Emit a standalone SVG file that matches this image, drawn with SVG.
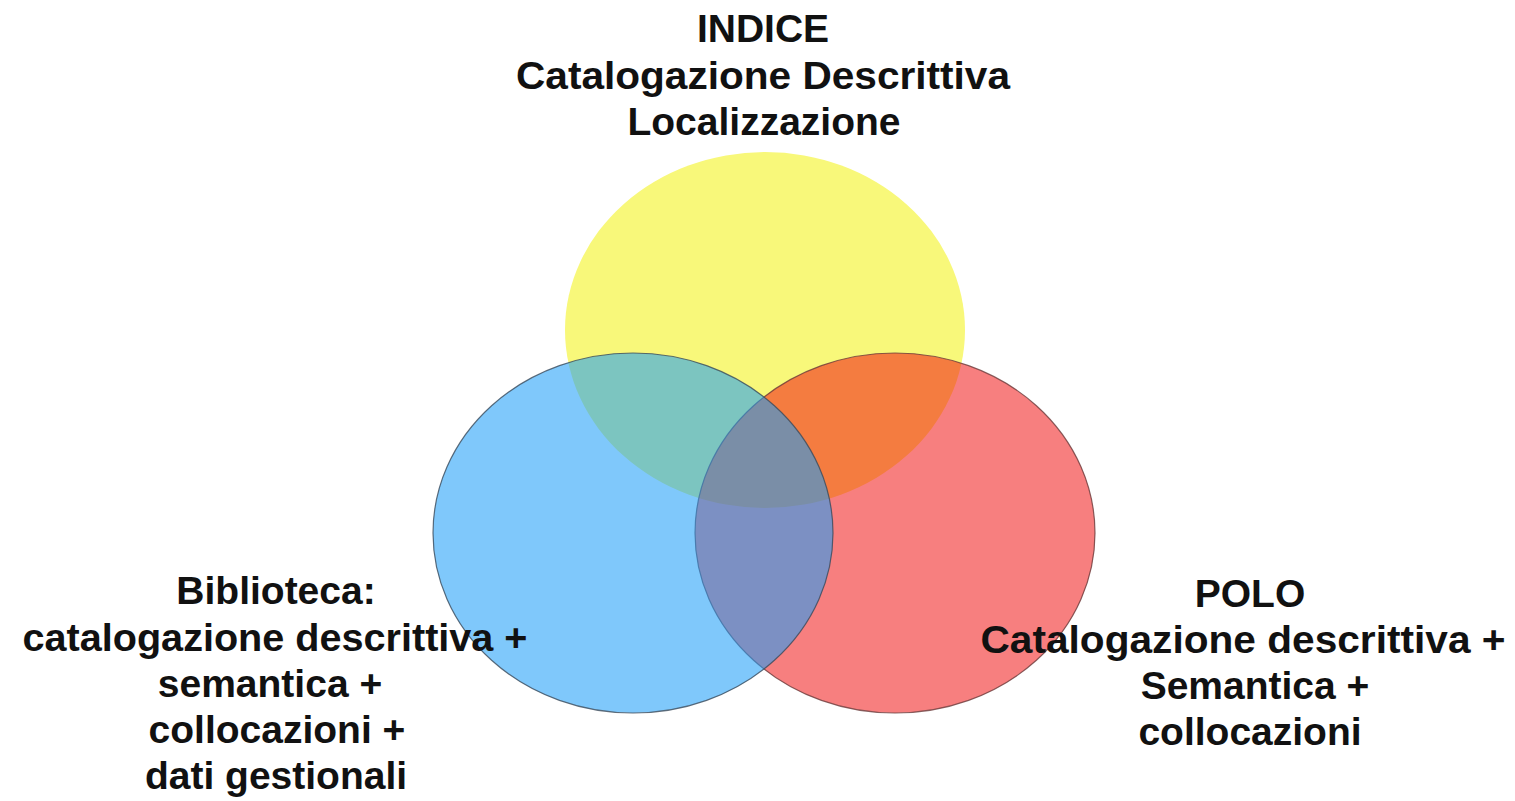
<svg xmlns="http://www.w3.org/2000/svg" width="1515" height="801" viewBox="0 0 1515 801">
<style>
.lbl{font-family:"Liberation Sans",Arial,sans-serif;font-weight:bold;font-size:39px;fill:#111;text-anchor:middle}
</style>
<rect width="1515" height="801" fill="#ffffff"/>
<g id="indice">
<ellipse cx="765" cy="330" rx="200" ry="178" fill="#f8f87a"/>
</g>
<g id="polo">
<ellipse cx="895" cy="533" rx="200" ry="180" fill="#f00d0d" fill-opacity="0.53" stroke="#6a3a3a" stroke-opacity="0.8" stroke-width="1.2"/>
</g>
<g id="biblioteca">
<ellipse cx="633" cy="533" rx="200" ry="180" fill="#1a9df8" fill-opacity="0.56" stroke="#3a4a5a" stroke-opacity="0.8" stroke-width="1.2"/>
</g>
<g id="connectors"></g>
<g id="indice-label">
<text class="lbl" x="763" y="42">INDICE</text>
<text class="lbl" x="763" y="89" textLength="494" lengthAdjust="spacingAndGlyphs">Catalogazione Descrittiva</text>
<text class="lbl" x="764" y="135">Localizzazione</text>
</g>
<g id="biblioteca-label">
<text class="lbl" x="276" y="604">Biblioteca:</text>
<text class="lbl" x="275" y="651" textLength="505" lengthAdjust="spacingAndGlyphs">catalogazione descrittiva +</text>
<text class="lbl" x="270" y="697">semantica +</text>
<text class="lbl" x="277" y="743">collocazioni +</text>
<text class="lbl" x="276" y="789">dati gestionali</text>
</g>
<g id="polo-label">
<text class="lbl" x="1250" y="607">POLO</text>
<text class="lbl" x="1243" y="653" textLength="525" lengthAdjust="spacingAndGlyphs">Catalogazione descrittiva +</text>
<text class="lbl" x="1255" y="699">Semantica +</text>
<text class="lbl" x="1250" y="745">collocazioni</text>
</g>
</svg>
